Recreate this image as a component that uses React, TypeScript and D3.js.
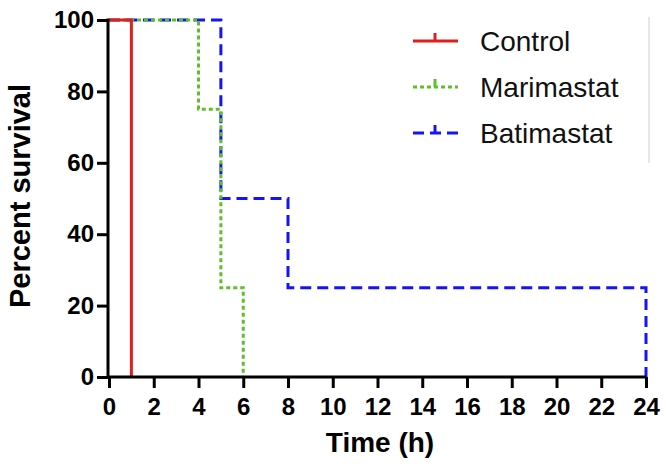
import React, { useRef, useEffect } from 'react';
import * as d3 from 'd3';

// survival step data (time in h, percent)
const controlSteps = [
  { t: 0, s: 100 },
  { t: 1, s: 100 },
  { t: 1, s: 0 },
];
const marimastatSteps = [
  { t: 0, s: 100 },
  { t: 4, s: 100 },
  { t: 4, s: 75 },
  { t: 5, s: 75 },
  { t: 5, s: 25 },
  { t: 6, s: 25 },
  { t: 6, s: 0 },
];
const batimastatSteps = [
  { t: 0, s: 100 },
  { t: 5, s: 100 },
  { t: 5, s: 50 },
  { t: 8, s: 50 },
  { t: 8, s: 25 },
  { t: 24, s: 25 },
  { t: 24, s: 0 },
];
const seriesNames = ['Control', 'Marimastat', 'Batimastat'];
const seriesColors = ['#e01e1e', '#5cc02a', '#1414f5'];
const seriesDash = ['none', '4,3', '11,6'];
const xTicks = [0, 2, 4, 6, 8, 10, 12, 14, 16, 18, 20, 22, 24];
const yTicks = [0, 20, 40, 60, 80, 100];

const App = () => {
  const svgRef = useRef<SVGSVGElement>(null);

  useEffect(() => {
    if (!svgRef.current) return;
    const width = 666;
    const height = 469;
    const svg = d3.select(svgRef.current);
    svg.selectAll('*').remove();
    svg.attr('width', width).attr('height', height);

    const x = d3.scaleLinear().domain([0, 24]).range([109, 646]);
    const y = d3.scaleLinear().domain([0, 100]).range([377, 20]);
    const font = 'Liberation Sans, Arial, sans-serif';

    // faint frame line at right of legend
    svg.append('line')
      .attr('x1', 649).attr('x2', 649)
      .attr('y1', 17).attr('y2', 163)
      .attr('stroke', '#cfcfcf').attr('stroke-width', 1);

    const line = d3.line<{ t: number; s: number }>()
      .x(d => x(d.t))
      .y(d => y(d.s));

    const allSeries = [controlSteps, marimastatSteps, batimastatSteps];
    // blue first, then green, red on top
    [2, 1, 0].forEach(i => {
      svg.append('path')
        .attr('d', line(allSeries[i]))
        .attr('fill', 'none')
        .attr('stroke', seriesColors[i])
        .attr('stroke-width', 3)
        .attr('stroke-dasharray', seriesDash[i]);
    });

    // axes
    const xAxis = svg.append('g')
      .attr('transform', `translate(0,${y(0)})`)
      .call(d3.axisBottom(x).tickValues(xTicks).tickSize(11).tickSizeOuter(0).tickPadding(10));
    xAxis.select('.domain').attr('stroke', '#000').attr('stroke-width', 3)
      .attr('d', `M${x(0) - 1.5},0H${x(24)}`);
    xAxis.selectAll('.tick line').attr('stroke', '#000').attr('stroke-width', 3);
    xAxis.selectAll('.tick text')
      .attr('font-family', font).attr('font-weight', 'bold').attr('font-size', 24).attr('fill', '#000');

    const yAxis = svg.append('g')
      .attr('transform', `translate(${x(0) - 1},0)`)
      .call(d3.axisLeft(y).tickValues(yTicks).tickSize(11).tickSizeOuter(0).tickPadding(3));
    yAxis.select('.domain').attr('stroke', '#000').attr('stroke-width', 3)
      .attr('d', `M0,${y(100) - 1.5}V${y(0)}`);
    yAxis.selectAll('.tick line').attr('stroke', '#000').attr('stroke-width', 3);
    yAxis.selectAll('.tick text')
      .attr('font-family', font).attr('font-weight', 'bold').attr('font-size', 24).attr('fill', '#000');

    // axis titles
    svg.append('text')
      .attr('x', 380)
      .attr('y', 452)
      .attr('text-anchor', 'middle')
      .attr('font-family', font).attr('font-weight', 'bold').attr('font-size', 28)
      .text('Time (h)');

    svg.append('text')
      .attr('transform', `translate(30,${196}) rotate(-90)`)
      .attr('text-anchor', 'middle')
      .attr('font-family', font).attr('font-weight', 'bold').attr('font-size', 29)
      .text('Percent survival');

    // legend
    const legend = svg.append('g');
    seriesNames.forEach((name, i) => {
      const ly = 41 + i * 46;
      const g = legend.append('g').attr('transform', `translate(413,${ly})`);
      g.append('line')
        .attr('x1', 0).attr('x2', 45).attr('y1', 0).attr('y2', 0)
        .attr('stroke', seriesColors[i]).attr('stroke-width', 3)
        .attr('stroke-dasharray', seriesDash[i]);
      g.append('line')
        .attr('x1', 22).attr('x2', 22).attr('y1', -8).attr('y2', 0)
        .attr('stroke', seriesColors[i]).attr('stroke-width', 3);
      g.append('text')
        .attr('x', 67).attr('y', 10)
        .attr('font-family', font).attr('font-size', 28).attr('fill', '#111')
        .text(name);
    });
  }, []);

  return (
    <svg ref={svgRef} style={{ position: 'absolute', left: 0, top: 0, background: '#fff' }}></svg>
  );
};

export default App;
